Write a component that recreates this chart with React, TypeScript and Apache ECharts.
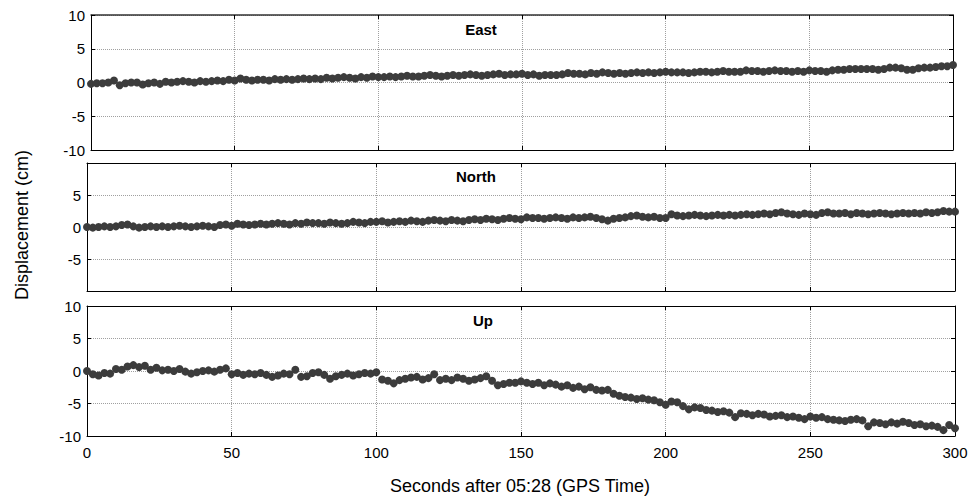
import React, { useEffect, useRef } from "react";
import * as echarts from "echarts";

const TIMES: number[] = Array.from({ length: 151 }, (_, i) => i * 2);
const PANEL_TITLES = ["East", "North", "Up"];
const Y_TICKS = [-10, -5, 0, 5, 10];
const X_LABEL = "Seconds after 05:28 (GPS Time)";
const Y_LABEL = "Displacement (cm)";

const EAST = [
  -0.2, -0.1, -0.1, 0.0, 0.3, -0.4, -0.1, 0.0, 0.0, -0.3,
  -0.1, 0.0, -0.2, 0.1, 0.0, 0.1, 0.2, 0.1, 0.0, 0.2,
  0.1, 0.2, 0.3, 0.2, 0.4, 0.3, 0.6, 0.4, 0.3, 0.4,
  0.4, 0.3, 0.5, 0.4, 0.5, 0.4, 0.5, 0.6, 0.5, 0.6,
  0.5, 0.7, 0.6, 0.7, 0.8, 0.7, 0.6, 0.8, 0.7, 0.9,
  0.8, 0.8, 0.9, 0.8, 0.9, 1.0, 0.9, 0.9, 1.0, 1.1,
  1.0, 0.9, 1.0, 1.1, 1.0, 1.1, 1.2, 1.1, 1.0, 1.1,
  1.2, 1.3, 1.1, 1.2, 1.2, 1.3, 1.1, 1.2, 1.0, 1.1,
  1.1, 1.1, 1.2, 1.4, 1.3, 1.3, 1.2, 1.4, 1.3, 1.5,
  1.4, 1.3, 1.4, 1.3, 1.4, 1.5, 1.4, 1.5, 1.4, 1.5,
  1.6, 1.5, 1.5, 1.5, 1.4, 1.5, 1.6, 1.6, 1.5, 1.6,
  1.7, 1.6, 1.6, 1.6, 1.8, 1.7, 1.7, 1.6, 1.7, 1.8,
  1.7, 1.7, 1.6, 1.7, 1.6, 1.8, 1.7, 1.7, 1.6, 1.8,
  1.9, 1.9, 2.0, 2.0, 2.0, 2.0, 2.0, 1.9, 2.0, 2.2,
  2.2, 2.1, 1.9, 1.9, 2.1, 2.2, 2.2, 2.3, 2.4, 2.4,
  2.6,
];

const NORTH = [
  0.0, -0.1, 0.0, 0.1, 0.0, 0.1, 0.3, 0.4, 0.1, -0.1,
  0.0, 0.1, 0.0, 0.1, 0.0, 0.1, 0.2, 0.1, 0.0, 0.1,
  0.2, 0.1, 0.0, 0.3, 0.4, 0.2, 0.5, 0.4, 0.3, 0.4,
  0.5, 0.4, 0.5, 0.6, 0.5, 0.4, 0.6, 0.5, 0.7, 0.6,
  0.6, 0.5, 0.7, 0.6, 0.5, 0.6, 0.8, 0.7, 0.6, 0.8,
  0.8, 0.9, 0.7, 0.8, 0.9, 0.8, 1.0, 0.9, 0.8, 1.0,
  1.1, 1.0, 0.9, 1.1, 1.0, 0.9, 1.1, 1.2, 1.1, 1.3,
  1.2, 1.1, 1.3, 1.4, 1.3, 1.2, 1.5, 1.4, 1.4, 1.3,
  1.4, 1.5, 1.4, 1.3, 1.5, 1.4, 1.5, 1.6, 1.4, 1.2,
  1.0, 1.3, 1.4, 1.5, 1.7, 1.8, 1.6, 1.5, 1.6, 1.4,
  1.4, 2.0, 1.8, 1.7, 1.8, 1.9, 1.8, 1.7, 1.8, 1.9,
  1.8, 1.9, 1.8, 1.9, 2.0, 1.9, 2.0, 2.1, 2.0, 2.2,
  2.3, 2.1, 2.0, 1.9, 2.1, 2.0, 1.9, 2.2, 2.3, 2.1,
  2.1, 2.2, 2.0, 2.2, 2.1, 2.0, 2.1, 2.2, 2.1, 2.0,
  2.1, 2.2, 2.1, 2.2, 2.1, 2.3, 2.2, 2.3, 2.5, 2.4,
  2.4,
];

const UP = [
  0.0, -0.5, -0.7, -0.3, -0.4, 0.3, 0.2, 0.7, 0.9, 0.6,
  0.8, 0.2, 0.5, 0.1, 0.2, 0.0, 0.3, -0.1, -0.4, -0.2,
  0.0, 0.1, -0.1, 0.2, 0.4, -0.5, -0.3, -0.6, -0.4, -0.5,
  -0.3, -0.6, -0.9, -0.7, -0.4, -0.5, 0.2, -0.9, -0.8, -0.3,
  -0.2, -0.6, -1.2, -0.8, -0.6, -0.4, -0.7, -0.5, -0.3, -0.4,
  -0.2, -1.3, -1.5, -1.9, -1.4, -1.2, -1.0, -0.9, -1.3, -1.1,
  -0.5, -1.4, -1.2, -1.4, -1.0, -1.2, -1.5, -1.3, -1.1, -0.8,
  -1.5, -2.2, -2.0, -1.8, -1.8, -1.6, -1.8, -2.0, -1.8, -2.2,
  -1.9, -2.1, -2.4, -2.2, -2.6, -2.4, -2.8, -2.5, -2.9, -3.0,
  -2.9, -3.5, -3.8, -4.0, -4.1, -4.3, -4.2, -4.4, -4.5, -4.8,
  -5.2, -4.7, -4.8, -5.4, -5.9, -5.6, -5.7, -6.0, -6.1, -6.3,
  -6.2, -6.4, -7.1, -6.5, -6.6, -6.8, -6.6, -6.7, -7.0, -6.9,
  -6.8, -7.1, -7.0, -7.2, -7.4, -7.0, -7.2, -7.1, -7.4, -7.5,
  -7.6, -7.7, -7.5, -7.4, -7.6, -8.5, -7.9, -8.0, -8.2, -7.9,
  -8.1, -7.8, -8.0, -8.3, -8.2, -8.5, -8.4, -8.6, -9.1, -8.3,
  -8.8,
];

const SERIES = [EAST, NORTH, UP];
const FONT = "'Liberation Sans', Arial, Helvetica, sans-serif";

export default function App() {
  const ref = useRef<HTMLDivElement>(null);

  useEffect(() => {
    if (!ref.current) return;
    const chart = echarts.init(ref.current, undefined, { renderer: "svg" });

    const grids = [
      { left: 91, right: 23, top: 15, height: 135 },
      { left: 87, right: 21, top: 163, height: 128 },
      { left: 87, right: 21, top: 306, height: 130 },
    ];

    const xAxes: any[] = [];
    const yAxes: any[] = [];
    const series: any[] = [];
    const graphics: any[] = [];

    grids.forEach((g, i) => {
      xAxes.push({
        type: "value",
        gridIndex: i,
        min: 0,
        max: 300,
        interval: 50,
        position: "bottom",
        axisLine: { show: true, onZero: false, lineStyle: { color: "#000", width: 1 } },
        axisTick: { show: true, inside: true, length: 4, lineStyle: { color: "#000" } },
        axisLabel: {
          show: i === 2,
          color: "#000",
          fontSize: 15,
          fontFamily: FONT,
          margin: 9,
        },
        splitLine: { show: true, lineStyle: { color: "#a0a0a0", type: "dotted", width: 1 } },
      });
      xAxes.push({
        type: "value",
        gridIndex: i,
        min: 0,
        max: 300,
        interval: 50,
        position: "top",
        axisLine: { show: true, onZero: false, lineStyle: { color: i === 0 ? "#333" : "#000", width: i === 0 ? 1.5 : 1 } },
        axisTick: { show: true, inside: true, length: 4, lineStyle: { color: "#000" } },
        axisLabel: { show: false },
        splitLine: { show: false },
      });
      yAxes.push({
        type: "value",
        gridIndex: i,
        min: -10,
        max: 10,
        interval: 5,
        position: "left",
        axisLine: { show: true, onZero: false, lineStyle: { color: "#000", width: 1 } },
        axisTick: { show: true, inside: true, length: 4, lineStyle: { color: "#000" } },
        axisLabel: {
          show: true,
          color: "#000",
          fontSize: 15,
          fontFamily: FONT,
          margin: 6,
          showMinLabel: i !== 1,
          showMaxLabel: i !== 1,
          formatter: (v: number) => (Y_TICKS.includes(v) ? String(v) : ""),
        },
        splitLine: { show: true, lineStyle: { color: "#a0a0a0", type: "dotted", width: 1 } },
      });
      yAxes.push({
        type: "value",
        gridIndex: i,
        min: -10,
        max: 10,
        interval: 5,
        position: "right",
        axisLine: { show: true, onZero: false, lineStyle: { color: "#000", width: 1 } },
        axisTick: { show: true, inside: true, length: 4, lineStyle: { color: "#000" } },
        axisLabel: { show: false },
        splitLine: { show: false },
      });
      series.push({
        type: "scatter",
        xAxisIndex: i * 2,
        yAxisIndex: i * 2,
        symbol: "circle",
        symbolSize: 8,
        itemStyle: { color: "#3c3c3c", opacity: 1 },
        data: TIMES.map((t, k) => [t, SERIES[i][k]]),
        z: 5,
      });
    });

    const titleY = [29, 176, 320];
    const titleX = [481, 476, 483];
    PANEL_TITLES.forEach((t, i) => {
      graphics.push({
        type: "text",
        x: titleX[i],
        y: titleY[i],
        z: 10,
        style: {
          text: t,
          fill: "#000",
          font: `bold 15px ${FONT}`,
          textAlign: "center",
          textVerticalAlign: "middle",
        },
      });
    });
    graphics.push({
      type: "text",
      x: 520,
      y: 486,
      style: {
        text: X_LABEL,
        fill: "#000",
        font: `18px ${FONT}`,
        textAlign: "center",
        textVerticalAlign: "middle",
      },
    });
    graphics.push({
      type: "text",
      x: 22,
      y: 225,
      rotation: Math.PI / 2,
      style: {
        text: Y_LABEL,
        fill: "#000",
        font: `18px ${FONT}`,
        textAlign: "center",
        textVerticalAlign: "middle",
      },
    });

    chart.setOption({
      animation: false,
      backgroundColor: "#fff",
      grid: grids,
      xAxis: xAxes,
      yAxis: yAxes,
      series,
      graphic: graphics,
    });

    return () => chart.dispose();
  }, []);

  return (
    <div
      ref={ref}
      style={{ position: "fixed", left: 0, top: 0, width: 976, height: 502 }}
    />
  );
}
